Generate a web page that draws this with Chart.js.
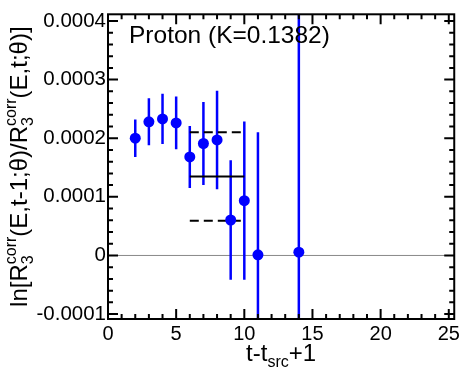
<!DOCTYPE html>
<html>
<head>
<meta charset="utf-8">
<script src="https://cdn.jsdelivr.net/npm/chart.js@4.4.0/dist/chart.umd.min.js"></script>
<style>
    body { margin: 0; background: #fff; }
    canvas { display: block; }
</style>
</head>
<body>
<canvas id="grafico" width="463" height="372"></canvas>
<script>
// dados
const tValues = [2, 3, 4, 5, 6, 7, 8, 9, 10, 11, 14];
const ratio = [0.000200, 0.000228, 0.000233, 0.000226, 0.000168, 0.000191, 0.000197, 0.0000605, 0.0000934, 0.000001, 0.0000055];
const ratioErr = [0.000032, 0.000040, 0.000043, 0.000045, 0.000053, 0.000071, 0.000084, 0.000102, 0.000135, 0.000209, 0.00080];

const fitRange = [6, 10];
const fitValue = 0.0001347;
const fitUpper = 0.00021;
const fitLower = 0.0000594;

const xTicks = [0, 5, 10, 15, 20, 25];
const xTickLabels = ['0', '5', '10', '15', '20', '25'];
const yTicks = [-0.0001, 0, 0.0001, 0.0002, 0.0003, 0.0004];
const yTickLabels = ['-0.0001', '0', '0.0001', '0.0002', '0.0003', '0.0004'];

const xMin = 0, xMax = 25.4;
const yMin = -0.0001084, yMax = 0.0004114;

const FONTE = "'Liberation Sans', Arial, sans-serif";
Chart.defaults.font.family = FONTE;
Chart.defaults.color = '#000';

// desenha um texto com pedaços em subscrito/sobrescrito
function textoComposto(ctx, partes, cx, base) {
    const main = `24px ${FONTE}`;
    const small = `16px ${FONTE}`;
    let total = 0;
    partes.forEach(p => {
        if (p.t) { ctx.font = main; p.w = ctx.measureText(p.t).width; }
        else {
            ctx.font = small;
            p.w = Math.max(p.sub ? ctx.measureText(p.sub).width : 0, p.sup ? ctx.measureText(p.sup).width : 0);
        }
        total += p.w;
    });
    let x = cx - total / 2;
    ctx.textAlign = 'left';
    ctx.textBaseline = 'alphabetic';
    partes.forEach(p => {
        if (p.t) { ctx.font = main; ctx.fillText(p.t, x, base); }
        else {
            ctx.font = small;
            if (p.sub) ctx.fillText(p.sub, x, base + 6);
            if (p.sup) ctx.fillText(p.sup, x, base - 11);
        }
        x += p.w;
    });
}

const moldura = {
    id: 'moldura',
    beforeDatasetsDraw(chart) {
        const { ctx, chartArea: a, scales: { x, y } } = chart;
        ctx.save();
        // linha do zero
        ctx.strokeStyle = '#888';
        ctx.lineWidth = 1;
        ctx.beginPath();
        ctx.moveTo(a.left, y.getPixelForValue(0));
        ctx.lineTo(a.right, y.getPixelForValue(0));
        ctx.stroke();
        // barras de erro
        ctx.beginPath();
        ctx.rect(a.left, a.top, a.right - a.left, a.bottom - a.top);
        ctx.clip();
        ctx.strokeStyle = '#0000ff';
        ctx.lineWidth = 2.5;
        for (let i = 0; i < tValues.length; i++) {
            const px = x.getPixelForValue(tValues[i]);
            ctx.beginPath();
            ctx.moveTo(px, y.getPixelForValue(ratio[i] - ratioErr[i]));
            ctx.lineTo(px, y.getPixelForValue(ratio[i] + ratioErr[i]));
            ctx.stroke();
        }
        ctx.restore();
    },
    afterDatasetsDraw(chart) {
        const { ctx, chartArea: a, scales: { x, y } } = chart;
        ctx.save();
        ctx.strokeStyle = '#000';
        ctx.lineWidth = 2;
        ctx.strokeRect(a.left, a.top, a.right - a.left, a.bottom - a.top);

        // marcas para dentro nos quatro lados
        ctx.beginPath();
        for (let v = 0; v <= 25; v++) {
            const len = v % 5 == 0 ? 10 : 5;
            const px = x.getPixelForValue(v);
            ctx.moveTo(px, a.bottom); ctx.lineTo(px, a.bottom - len);
            ctx.moveTo(px, a.top); ctx.lineTo(px, a.top + len);
        }
        for (let k = -5; k <= 20; k++) {
            const len = k % 5 == 0 ? 10 : 5;
            const py = y.getPixelForValue(k * 0.00002);
            ctx.moveTo(a.left, py); ctx.lineTo(a.left + len, py);
            ctx.moveTo(a.right, py); ctx.lineTo(a.right - len, py);
        }
        ctx.stroke();

        ctx.fillStyle = '#000';
        ctx.font = `24.5px ${FONTE}`;
        ctx.textAlign = 'left';
        ctx.fillText('Proton (K=0.1382)', 129, 43);

        // titulo do eixo x
        textoComposto(ctx, [{ t: 't-t' }, { sub: 'src' }, { t: '+1' }], (a.left + a.right) / 2, 361);

        // titulo do eixo y
        ctx.translate(27, (a.top + a.bottom) / 2);
        ctx.rotate(-Math.PI / 2);
        textoComposto(ctx, [
            { t: 'ln[R' }, { sub: '3', sup: 'corr' },
            { t: '(E,t-1;θ)/R' }, { sub: '3', sup: 'corr' },
            { t: '(E,t;θ)]' }
        ], 0, 0);
        ctx.restore();
    }
};

const pontos = tValues.map((t, i) => ({ x: t, y: ratio[i] }));
const linhaFit = v => fitRange.map(t => ({ x: t, y: v }));

new Chart(document.getElementById('grafico'), {
    type: 'scatter',
    data: {
        datasets: [
            {
                data: pontos,
                backgroundColor: '#0000ff',
                borderWidth: 0,
                pointRadius: 5.5,
                order: 0
            },
            {
                type: 'line', data: linhaFit(fitValue),
                borderColor: '#000', borderWidth: 2, pointRadius: 0, order: 1
            },
            {
                type: 'line', data: linhaFit(fitUpper),
                borderColor: '#000', borderWidth: 2, borderDash: [9, 5], pointRadius: 0, order: 1
            },
            {
                type: 'line', data: linhaFit(fitLower),
                borderColor: '#000', borderWidth: 2, borderDash: [9, 5], pointRadius: 0, order: 1
            }
        ]
    },
    options: {
        responsive: false,
        animation: false,
        layout: { autoPadding: false, padding: { top: 4, right: 6, left: 0, bottom: 0 } },
        plugins: { legend: { display: false }, tooltip: { enabled: false } },
        scales: {
            x: {
                type: 'linear', min: xMin, max: xMax,
                grid: { display: false, drawTicks: false },
                border: { display: false },
                afterBuildTicks: s => { s.ticks = xTicks.map(v => ({ value: v })); },
                afterFit: s => { s.height = 53; },
                ticks: {
                    autoSkip: false, maxRotation: 0, padding: 3,
                    font: { size: 20 },
                    callback: (v, i) => xTickLabels[i]
                }
            },
            y: {
                type: 'linear', min: yMin, max: yMax,
                grid: { display: false, drawTicks: false },
                border: { display: false },
                afterBuildTicks: s => { s.ticks = yTicks.map(v => ({ value: v })); },
                afterFit: s => { s.width = 108; },
                ticks: {
                    autoSkip: false, padding: 2,
                    font: { size: 20.5 },
                    callback: (v, i) => yTickLabels[i]
                }
            }
        }
    },
    plugins: [moldura]
});
</script>
</body>
</html>
